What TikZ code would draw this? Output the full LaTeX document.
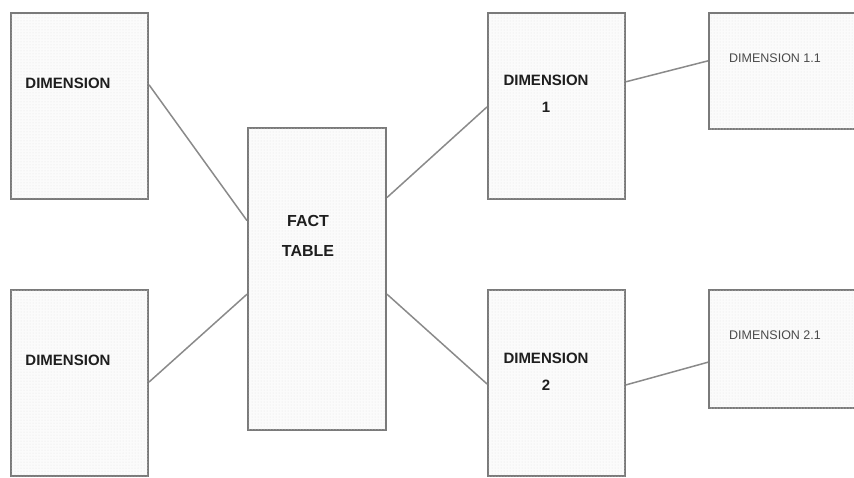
\documentclass[tikz,border=0pt]{standalone}
\usepackage{fontspec}
\setmainfont{Liberation Sans}
\usetikzlibrary{calc,patterns}
\definecolor{boxline}{HTML}{7A7A7A}
\definecolor{conn}{HTML}{8A8A8A}
\definecolor{txtdark}{HTML}{1E1E1E}
\definecolor{txtlight}{HTML}{4A4A4A}
\begin{document}
\begin{tikzpicture}[x=1pt,y=-1pt,
  tbl/.style={draw=boxline,line width=2pt,fill=gray!3,
    postaction={pattern=dots,pattern color=gray!22},
    rectangle,inner sep=0pt,anchor=north west},
  boldlbl/.style={font=\bfseries\fontsize{15}{27}\selectfont,text=txtdark,align=center,inner sep=0pt},
  factlbl/.style={font=\bfseries\fontsize{16}{30}\selectfont,text=txtdark,align=center,inner sep=0pt},
  thinlbl/.style={font=\fontsize{12.5}{14}\selectfont,text=txtlight,inner sep=0pt},
  link/.style={draw=conn,line width=1.5pt}]
\useasboundingbox (0,0) rectangle (854,477);
% boxes
\node[tbl,minimum width=137pt,minimum height=186pt] (tl) at (10,12) {};
\node[tbl,minimum width=137pt,minimum height=186pt] (bl) at (10,289) {};
\node[tbl,minimum width=138pt,minimum height=302pt] (fact) at (247,127) {};
\node[tbl,minimum width=137pt,minimum height=186pt] (d1) at (487,12) {};
\node[tbl,minimum width=137pt,minimum height=186pt] (d2) at (487,289) {};
\node[tbl,minimum width=170pt,minimum height=116pt] (d11) at (708,12) {};
\node[tbl,minimum width=170pt,minimum height=118pt] (d21) at (708,289) {};
% labels
\node[boldlbl] (ltl) at (68,83) {DIMENSION};
\node[boldlbl] (lbl) at (68,360) {DIMENSION};
\node[factlbl] (lfact) at (308,236) {FACT\\TABLE};
\node[boldlbl] (ld1) at (546,94) {DIMENSION\\1};
\node[boldlbl] (ld2) at (546,372) {DIMENSION\\2};
\node[thinlbl] (ld11) at (775,58) {DIMENSION 1.1};
\node[thinlbl] (ld21) at (775,335) {DIMENSION 2.1};
% connectors
\draw[link] ($(tl.north east)!0.387!(tl.south east)$) -- ($(fact.north west)!0.308!(fact.south west)$);
\draw[link] ($(bl.north east)!0.495!(bl.south east)$) -- ($(fact.north west)!0.55!(fact.south west)$);
\draw[link] ($(fact.north east)!0.232!(fact.south east)$) -- ($(d1.north west)!0.505!(d1.south west)$);
\draw[link] ($(fact.north east)!0.55!(fact.south east)$) -- ($(d2.north west)!0.505!(d2.south west)$);
\draw[link] ($(d1.north east)!0.371!(d1.south east)$) -- ($(d11.north west)!0.414!(d11.south west)$);
\draw[link] ($(d2.north east)!0.51!(d2.south east)$) -- ($(d21.north west)!0.61!(d21.south west)$);
\end{tikzpicture}
\end{document}
